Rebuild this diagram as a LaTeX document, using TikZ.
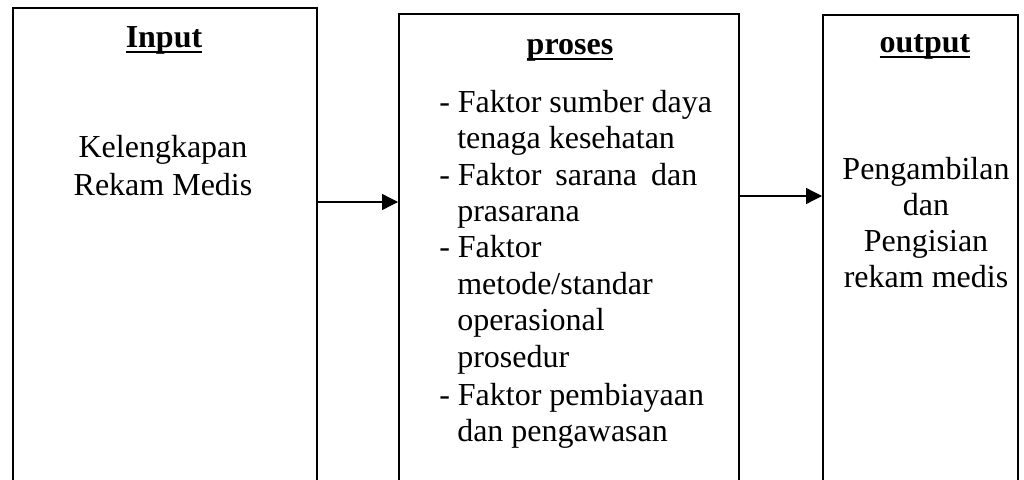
\documentclass[tikz,border=0pt]{standalone}
\usepackage{fontspec}
\setmainfont{Liberation Serif}
\usetikzlibrary{arrows.meta}

\newsavebox\hdbox
\newcommand\headline[1]{\sbox\hdbox{\textbf{#1}}\rlap{\rule[-4.5pt]{\wd\hdbox}{1.5pt}}\usebox\hdbox}

\begin{document}
\begin{tikzpicture}[x=0.75pt,y=-0.75pt,
  box/.style={draw,line width=1.2pt,anchor=north west,inner sep=0pt,minimum height=390pt},
  txt/.style={font=\fontsize{24}{27}\selectfont,inner sep=0pt},
  arr/.style={-{Triangle[length=12pt,width=12pt]},line width=1pt}]
\useasboundingbox (0,0) rectangle (1024,479);
\clip (0,0) rectangle (1024,479);

% boxes
\node[box,minimum width=228pt] (input) at (12,7) {};
\node[box,minimum width=255pt] (proses) at (398,13) {};
\node[box,minimum width=146.25pt] (output) at (822,14) {};

% input
\node[txt,anchor=base] (inputhd) at (164,47) {\headline{Input}};
\node[txt,anchor=base] (kel1) at (163,157) {Kelengkapan};
\node[txt,anchor=base] (kel2) at (163,195) {Rekam Medis};

% proses
\node[txt,anchor=base] (proseshd) at (570,54) {\headline{proses}};
\foreach \y/\t in {112/{- Faktor sumber daya},
                   185/{- Faktor\hspace{10.5pt}sarana\hspace{10.5pt}dan},
                   257/{- Faktor},
                   405/{- Faktor pembiayaan}}
  \node[txt,anchor=base west] at (439,\y) {\t};
\foreach \y/\t in {148/{tenaga kesehatan},
                   221/{prasarana},
                   294/{metode/standar},
                   330/{operasional},
                   367/{prosedur},
                   441/{dan pengawasan}}
  \node[txt,anchor=base west] at (457,\y) {\t};

% output
\node[txt,anchor=base] (outputhd) at (925,52) {\headline{output}};
\node[txt,anchor=base] (out1) at (926,179) {Pengambilan};
\node[txt,anchor=base] (out2) at (926,215) {dan};
\node[txt,anchor=base] (out3) at (926,251) {Pengisian};
\node[txt,anchor=base] (out4) at (926,287) {rekam medis};

% arrows
\coordinate (a1) at (0,202);
\coordinate (a2) at (0,196);
\draw[arr] (input.east |- a1) -- (proses.west |- a1);
\draw[arr] (proses.east |- a2) -- (output.west |- a2);
\end{tikzpicture}
\end{document}
